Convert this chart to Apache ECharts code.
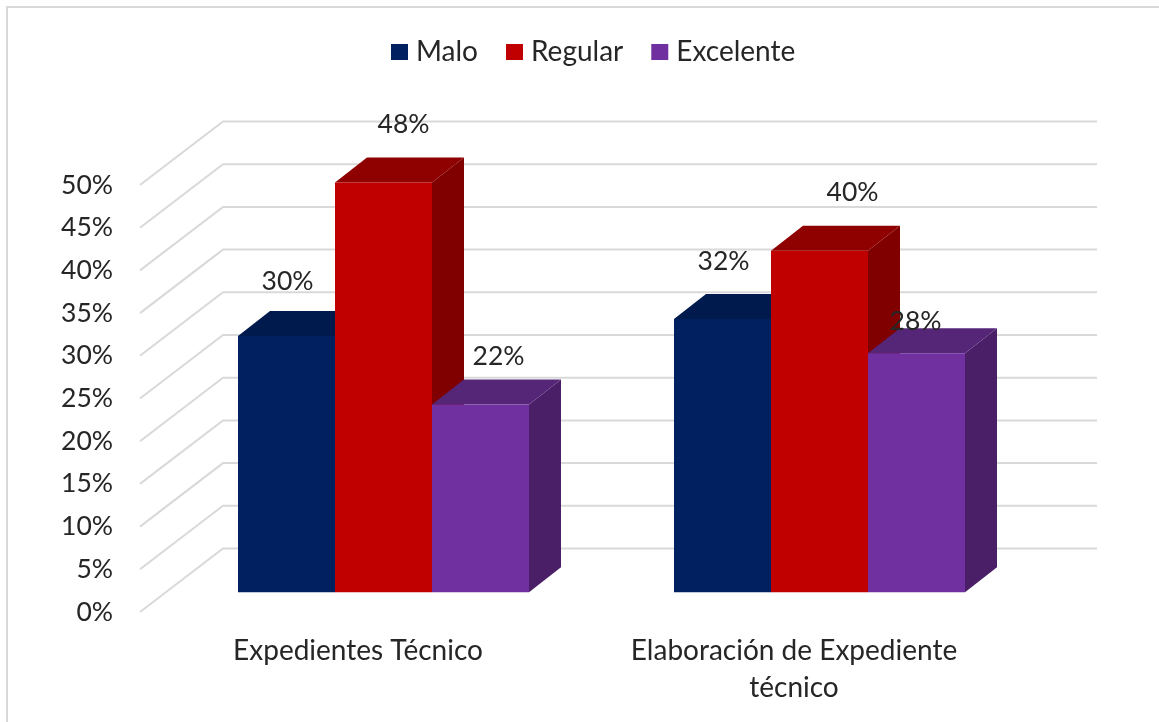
<!DOCTYPE html>
<html>
<head>
<meta charset="utf-8">
<style>html,body{margin:0;padding:0;background:#fff}#c{width:1159px;height:722px}</style>
<script src="https://cdn.jsdelivr.net/npm/echarts@6/dist/echarts.min.js"></script>
</head>
<body>
<div id="c"></div>
<script>
const categories = ['Expedientes Técnico', 'Elaboración de Expediente\ntécnico'];
const malo = [30, 32];
const regular = [48, 40];
const excelente = [22, 28];
const yTicks = [0, 5, 10, 15, 20, 25, 30, 35, 40, 45, 50];

const FONT = 'Lato';
const TEXT = '#262626';
const wall = { dx: 83, dy: -63.5, right: 1097 };
const bar = { shiftX: 25.5, shiftY: -19.7, width: 97, dx: 32, dy: -25 };
const labelNudges = {
  Malo: [[1, -55], [1, -58]],
  Regular: [[20, -58], [33, -58]],
  Excelente: [[18, -48], [-1, -32]]
};

function gridRender(params, api) {
  const p = api.coord([0, api.value(0)]);
  const x0 = params.coordSys.x;
  return {
    type: 'polyline',
    shape: { points: [[x0, p[1]], [x0 + wall.dx, p[1] + wall.dy], [wall.right, p[1] + wall.dy]] },
    style: { stroke: '#D9D9D9', lineWidth: 2, fill: null }
  };
}

function barSeries(name, values, slot, front, top, side) {
  return {
    name, type: 'custom', coordinateSystem: 'cartesian2d', z: 3 + slot, clip: false,
    itemStyle: { color: front },
    encode: { x: 0, y: 1 },
    data: values.map((v, i) => [i, v]),
    renderItem(params, api) {
      const i = api.value(0), v = api.value(1);
      const t = api.coord([i, v]), b = api.coord([i, 0]);
      const w = bar.width;
      const xl = t[0] + bar.shiftX + slot * w - w / 2, xr = xl + w;
      const yt = t[1] + bar.shiftY, yb = b[1] + bar.shiftY;
      const n = labelNudges[name][i];
      return {
        type: 'group',
        children: [
          { type: 'polygon', shape: { points: [[xr, yt], [xr + bar.dx, yt + bar.dy], [xr + bar.dx, yb + bar.dy], [xr, yb]] }, style: { fill: side } },
          { type: 'polygon', shape: { points: [[xl, yt], [xl + bar.dx, yt + bar.dy], [xr + bar.dx, yt + bar.dy], [xr, yt]] }, style: { fill: top } },
          { type: 'rect', shape: { x: xl, y: yt, width: w, height: yb - yt }, style: { fill: front } },
          { type: 'text', z2: 10, style: { x: xl + w / 2 + n[0], y: yt + n[1], text: v + '%', align: 'center', verticalAlign: 'middle', font: '26.5px ' + FONT, fill: TEXT } }
        ]
      };
    }
  };
}

const chart = echarts.init(document.getElementById('c'), null, { renderer: 'canvas' });
chart.setOption({
  animation: false,
  backgroundColor: '#fff',
  textStyle: { fontFamily: FONT },
  graphic: [{
    type: 'polyline', silent: true,
    shape: { points: [[7, 722], [7, 7], [1159, 7]] },
    style: { stroke: '#D9D9D9', lineWidth: 2, fill: null }
  }],
  legend: {
    data: ['Malo', 'Regular', 'Excelente'],
    left: 386, top: 33, icon: 'rect', itemWidth: 17, itemHeight: 16, itemGap: 28,
    textStyle: { fontFamily: FONT, fontSize: 28, color: TEXT, padding: [0, 0, 0, 3] }
  },
  grid: { left: 140, top: 185, width: 872, height: 427 },
  xAxis: {
    type: 'category', data: categories,
    axisLine: { show: false }, axisTick: { show: false },
    axisLabel: { fontFamily: FONT, fontSize: 28, color: TEXT, margin: 20, lineHeight: 37, interval: 0 }
  },
  yAxis: {
    type: 'value', min: 0, max: 50, interval: 5,
    axisLine: { show: false }, axisTick: { show: false }, splitLine: { show: false },
    axisLabel: { fontFamily: FONT, fontSize: 26.5, color: TEXT, margin: 27, formatter: '{value}%' }
  },
  series: [
    { type: 'custom', coordinateSystem: 'cartesian2d', z: 1, clip: false, silent: true,
      encode: { y: 0 }, data: yTicks.map(v => [v]), renderItem: gridRender },
    barSeries('Malo', malo, -1, '#002060', '#001A4D', '#001849'),
    barSeries('Regular', regular, 0, '#C00000', '#8F0000', '#800000'),
    barSeries('Excelente', excelente, 1, '#7030A0', '#552678', '#4A1F68')
  ]
});
</script>
</body>
</html>
